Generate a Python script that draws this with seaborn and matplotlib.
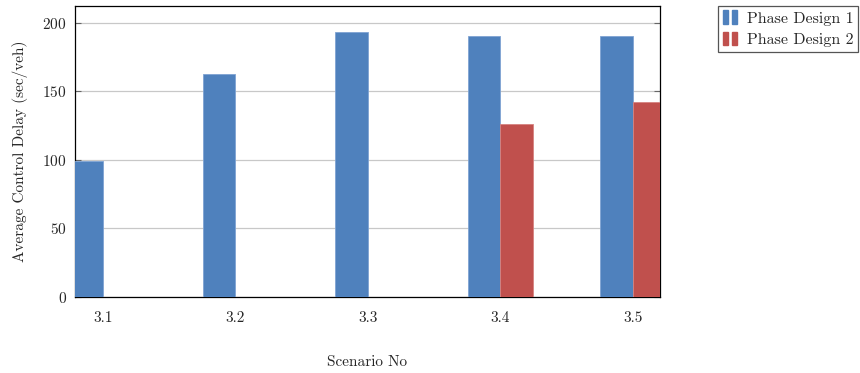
import pandas as pd
import matplotlib.pyplot as plt
import seaborn as sns
from matplotlib.patches import Rectangle
from matplotlib.legend_handler import HandlerTuple

scenarios = ['3.1', '3.2', '3.3', '3.4', '3.5']
design_1 = [99.5, 163, 193.5, 190.5, 190.8]
design_2 = [0, 0, 0, 126, 142.5]
series_names = ['Phase Design 1', 'Phase Design 2']
colors = ['#4F81BD', '#C0504D']
edge_colors = ['#7FA3D3', '#D68380']

df = pd.DataFrame({
    'Scenario': scenarios * 2,
    'Delay': design_1 + design_2,
    'Design': [series_names[0]] * len(scenarios) + [series_names[1]] * len(scenarios),
})

sns.set_style('white')
plt.rcParams['font.family'] = ['cmr10', 'DejaVu Serif']
plt.rcParams['axes.formatter.use_mathtext'] = True

fig = plt.figure(figsize=(8.6, 3.73), dpi=100)
ax = fig.add_axes([0.0872, 0.2038, 0.6802, 0.7809])

sns.barplot(data=df, x='Scenario', y='Delay', hue='Design', palette=colors,
            width=0.49, gap=0, saturation=1, ax=ax, zorder=3, legend=False)

# light edge like the original bars
for cont, ec in zip(ax.containers, edge_colors):
    for bar in cont:
        bar.set_edgecolor(ec)
        bar.set_linewidth(0.6)

ax.set_xlim(-0.21, 4.205)
ax.set_ylim(0, 212.6)
ax.set_yticks([0, 50, 100, 150, 200])
ax.yaxis.grid(True, color='#c8c8c8', linewidth=0.9, zorder=0)
ax.set_axisbelow(True)

for s in ax.spines.values():
    s.set_color('black')
    s.set_linewidth(0.9)

ax.tick_params(axis='y', direction='in', left=True, right=True, length=4,
               color='#666666', labelsize=11, pad=6)
ax.tick_params(axis='x', length=0, labelsize=11, pad=10)

ax.set_xlabel('Scenario No', fontsize=11, labelpad=22)
ax.set_ylabel('Average Control Delay (sec/veh)', fontsize=11, labelpad=10)

handles = [(Rectangle((0, 0), 1, 1, color=c), Rectangle((0, 0), 1, 1, color=c))
           for c in colors]
leg = ax.legend(handles, series_names, handler_map={tuple: HandlerTuple(ndivide=None, pad=0.25)},
                loc='upper left', bbox_to_anchor=(1.099, 1.0), frameon=True,
                fancybox=False, edgecolor='#555555', framealpha=1,
                fontsize=11.5, handlelength=0.9, handleheight=0.9,
                handletextpad=0.6, borderpad=0.3, labelspacing=0.4,
                borderaxespad=0)
leg.get_frame().set_linewidth(0.9)

fig.savefig('out.png', dpi=100)
